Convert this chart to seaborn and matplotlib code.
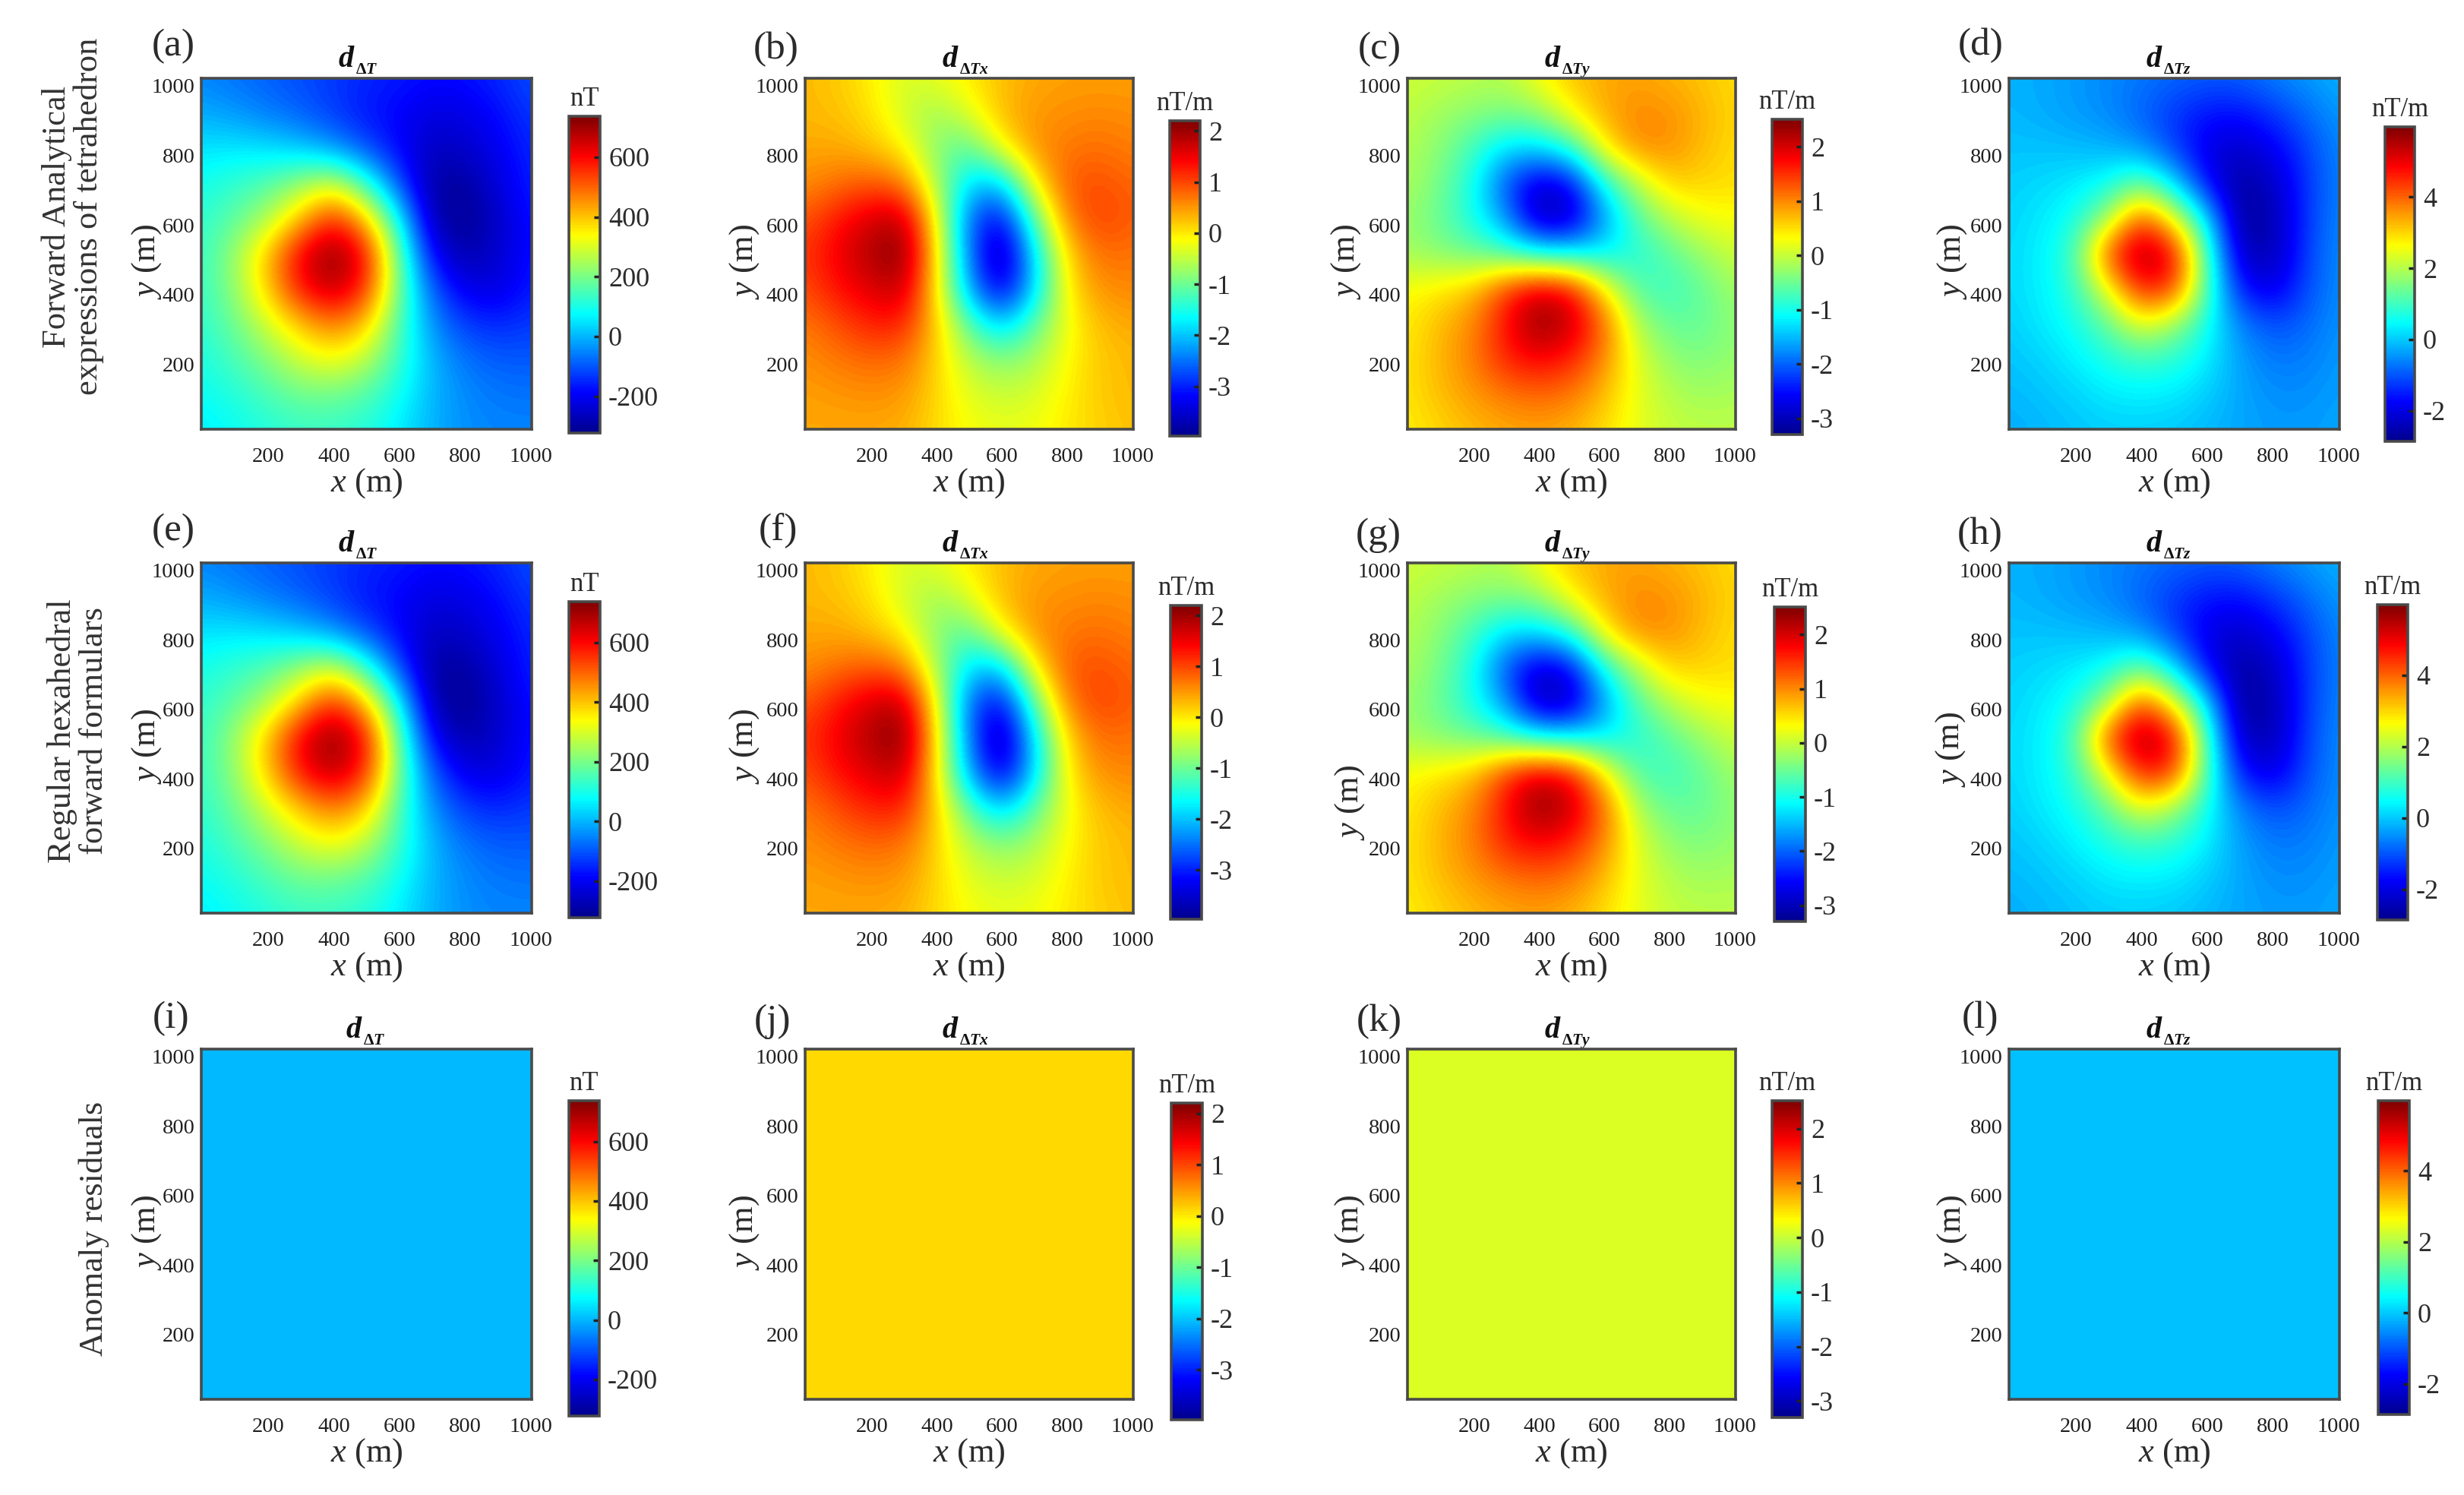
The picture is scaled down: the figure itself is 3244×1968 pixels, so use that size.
import matplotlib

matplotlib.use('Agg')
import matplotlib.pyplot as plt
import numpy as np
import pandas as pd
import seaborn as sns
from matplotlib.colors import LinearSegmentedColormap
from matplotlib.transforms import ScaledTranslation

FIG_W, FIG_H = 3244, 1968
INK = '#2b2b2b'
FRAME = '#4a4a4a'

# where the samples below sit on the axes; rows run from the top edge to the bottom edge
x_samples = [7, 108, 208, 309, 410, 511, 612, 713, 813, 914, 1015]
y_samples = [1015, 914, 813, 713, 612, 511, 410, 309, 208, 108, 7]

d_t = [
    [-50, -70, -90, -110, -130, -150, -165, -180, -175, -150, -110],
    [-10, -30, -60, -90, -130, -170, -190, -225, -215, -180, -130],
    [50, 55, 45, 20, -30, -110, -190, -260, -250, -200, -150],
    [95, 125, 160, 230, 300, 130, -110, -300, -300, -230, -150],
    [120, 170, 250, 400, 570, 400, 70, -285, -320, -250, -170],
    [130, 230, 400, 620, 737, 600, 170, -200, -290, -245, -170],
    [130, 220, 390, 590, 680, 560, 190, -100, -215, -225, -160],
    [120, 185, 290, 400, 480, 400, 150, -40, -130, -150, -130],
    [100, 150, 210, 290, 335, 270, 130, 0, -70, -95, -95],
    [85, 110, 150, 190, 190, 160, 90, 0, -45, -65, -70],
    [60, 85, 110, 130, 130, 110, 60, -5, -40, -50, -50],
]
d_tx = [
    [0.30, 0.20, -0.05, -0.35, -0.25, -0.02, 0.25, 0.40, 0.45, 0.45, 0.45],
    [0.30, 0.25, 0.05, -0.40, -0.70, -0.30, 0.30, 0.50, 0.55, 0.60, 0.55],
    [0.40, 0.40, 0.25, -0.05, -0.85, -1.15, -0.15, 0.55, 0.70, 0.75, 0.65],
    [0.55, 0.75, 0.90, 0.70, -0.60, -1.90, -2.00, -0.05, 0.90, 0.95, 0.80],
    [0.90, 1.30, 1.65, 1.85, -0.10, -2.60, -3.30, -1.10, 0.70, 1.05, 0.85],
    [1.10, 1.50, 1.90, 2.20, 0.10, -2.50, -3.95, -1.80, 0.15, 0.80, 0.70],
    [0.95, 1.35, 1.60, 1.80, 0.05, -2.20, -3.50, -1.90, 0.00, 0.55, 0.60],
    [0.70, 0.95, 1.25, 1.25, 0.20, -1.15, -2.00, -1.10, -0.20, 0.30, 0.40],
    [0.55, 0.70, 0.80, 0.75, 0.15, -0.55, -0.85, -0.65, -0.10, 0.20, 0.30],
    [0.45, 0.50, 0.55, 0.50, 0.12, -0.30, -0.45, -0.35, -0.05, 0.20, 0.30],
    [0.40, 0.40, 0.40, 0.35, 0.08, -0.15, -0.25, -0.20, 0.00, 0.15, 0.25],
]
d_ty = [
    [0.05, 0.00, -0.05, -0.10, 0.30, 0.65, 0.80, 0.85, 0.75, 0.65, 0.50],
    [-0.05, -0.20, -0.35, -0.40, -0.30, 0.35, 0.80, 1.00, 0.95, 0.75, 0.55],
    [-0.10, -0.35, -0.75, -1.30, -1.30, -0.90, 0.40, 1.00, 0.95, 0.70, 0.50],
    [-0.15, -0.45, -1.00, -2.10, -2.90, -2.60, -1.00, -0.10, 0.60, 0.55, 0.50],
    [-0.25, -0.55, -1.00, -1.70, -3.10, -3.00, -1.70, -0.65, -0.10, 0.25, 0.30],
    [-0.20, -0.35, -0.50, -0.70, -1.05, -1.15, -1.15, -0.95, -0.60, -0.25, 0.05],
    [0.30, 0.45, 0.65, 1.45, 2.00, 1.75, 0.40, -0.65, -0.80, -0.55, -0.20],
    [0.40, 0.70, 1.00, 1.70, 2.45, 2.10, 1.20, -0.15, -0.55, -0.55, -0.30],
    [0.45, 0.75, 1.05, 1.60, 1.80, 1.60, 1.00, 0.15, -0.30, -0.40, -0.25],
    [0.45, 0.70, 0.90, 1.10, 1.20, 1.10, 0.70, 0.20, -0.10, -0.20, -0.15],
    [0.40, 0.55, 0.70, 0.80, 0.85, 0.75, 0.50, 0.20, 0.00, -0.05, -0.05],
]
d_tz = [
    [-0.20, -0.25, -0.40, -0.55, -0.70, -0.85, -0.95, -0.90, -0.65, -0.40, -0.20],
    [-0.15, -0.25, -0.40, -0.55, -0.90, -1.30, -1.60, -1.65, -1.30, -0.85, -0.40],
    [-0.05, -0.05, -0.10, -0.20, -0.45, -1.20, -2.00, -2.25, -1.85, -1.20, -0.55],
    [0.05, 0.15, 0.30, 0.55, 1.40, 0.20, -1.70, -2.70, -2.30, -1.30, -0.60],
    [0.10, 0.30, 0.60, 1.80, 4.30, 2.50, 0.20, -2.80, -2.50, -1.30, -0.55],
    [0.15, 0.35, 1.00, 4.30, 5.80, 5.00, 1.00, -2.35, -2.50, -1.20, -0.50],
    [0.15, 0.35, 0.85, 2.50, 4.70, 4.40, 1.10, -1.60, -2.05, -1.10, -0.50],
    [0.05, 0.30, 0.60, 1.30, 2.50, 1.80, 0.60, -0.60, -1.10, -0.85, -0.45],
    [-0.05, 0.10, 0.35, 0.70, 0.95, 0.80, 0.35, -0.35, -0.70, -0.65, -0.40],
    [-0.15, -0.05, 0.10, 0.30, 0.35, 0.30, 0.05, -0.30, -0.50, -0.50, -0.35],
    [-0.25, -0.15, -0.05, 0.05, 0.05, 0.00, -0.15, -0.30, -0.40, -0.40, -0.30],
]
residual_levels = [5, 0.10, 0.13, -0.05]

column_grids = [d_t, d_tx, d_ty, d_tz]
column_subscripts = [
    r'$\mathbf{\Delta}\mathbfit{T}$',
    r'$\mathbf{\Delta}\mathbfit{Tx}$',
    r'$\mathbf{\Delta}\mathbfit{Ty}$',
    r'$\mathbf{\Delta}\mathbfit{Tz}$',
]
column_units = ['nT', 'nT/m', 'nT/m', 'nT/m']
column_limits = [(-323, 737), (-3.97, 2.2), (-3.3, 2.51), (-2.86, 5.97)]
column_ticks = [
    [-200, 0, 200, 400, 600],
    [-3, -2, -1, 0, 1, 2],
    [-3, -2, -1, 0, 1, 2],
    [-2, 0, 2, 4],
]
axis_ticks = [200, 400, 600, 800, 1000]
panel_letters = ['(a)', '(b)', '(c)', '(d)', '(e)', '(f)', '(g)', '(h)', '(i)', '(j)', '(k)', '(l)']

# pixel layout of the reference
frame_x = [(265, 700), (1060, 1492), (1853, 2285), (2645, 3080)]
frame_y = [(103, 565), (741, 1202), (1381, 1842)]
cbar_x = [
    [(749, 790), (1540, 1580), (2333, 2373), (3140, 3179)],
    [(749, 790), (1541, 1582), (2336, 2377), (3130, 3170)],
    [(749, 789), (1542, 1583), (2333, 2373), (3131, 3172)],
]
cbar_y = [
    [(153, 570), (159, 574), (157, 572), (167, 581)],
    [(792, 1208), (797, 1210), (799, 1213), (796, 1211)],
    [(1449, 1864), (1452, 1869), (1449, 1866), (1449, 1862)],
]
letter_pos = [
    [(228, 61), (1022, 65), (1816, 65), (2608, 60)],
    [(228, 699), (1024, 699), (1815, 705), (2607, 704)],
    [(225, 1341), (1017, 1345), (1816, 1345), (2607, 1341)],
]
# centre of the y label relative to the frame's left edge and middle, in pixels
ylabel_shift = [
    [(-67, 11), (-75, 11), (-76, 11), (-70, 11)],
    [(-67, 11), (-75, 11), (-71, 85), (-72, 15)],
    [(-67, 11), (-75, 11), (-71, 11), (-70, 11)],
]
row_labels = [
    ('Forward Analytical\nexpressions of tetrahedron', 96, 285),
    ('Regular hexahedral\nforward formulars', 103, 962),
    ('Anomaly residuals', 124, 1617),
]

# the original uses MATLAB's jet, whose ramps differ a little from matplotlib's
jet_segments = {
    'red': [(0, 0, 0), (0.375, 0, 0), (0.625, 1, 1), (0.875, 1, 1), (1, 0.5, 0.5)],
    'green': [(0, 0, 0), (0.125, 0, 0), (0.375, 1, 1), (0.625, 1, 1), (0.875, 0, 0), (1, 0, 0)],
    'blue': [(0, 0.5625, 0.5625), (0.125, 1, 1), (0.375, 1, 1), (0.625, 0, 0), (1, 0, 0)],
}
jet = LinearSegmentedColormap('matlab_jet', jet_segments, N=128)


def px_box(x_pair, y_pair):
    left, right = x_pair
    top, bottom = y_pair
    return [left / FIG_W, 1 - bottom / FIG_H, (right - left) / FIG_W, (bottom - top) / FIG_H]


def draw_panel(fig, row, col, grid):
    ax = fig.add_axes(px_box(frame_x[col], frame_y[row]))
    cax = fig.add_axes(px_box(cbar_x[row][col], cbar_y[row][col]))
    vmin, vmax = column_limits[col]
    frame = pd.DataFrame(grid, index=y_samples, columns=x_samples)
    sns.heatmap(frame, ax=ax, cbar_ax=cax, cmap=jet, vmin=vmin, vmax=vmax)

    # the field is continuous in the original, so smooth the cells at render time
    mesh = ax.collections[0]
    ax.imshow(frame.to_numpy(), cmap=mesh.cmap, norm=mesh.norm, interpolation='bicubic',
              extent=(0, 11, 11, 0), aspect='auto', zorder=2)

    centres = np.arange(len(x_samples)) + 0.5
    ax.set_xticks(np.interp(axis_ticks, x_samples, centres), axis_ticks)
    ax.set_yticks(np.interp(axis_ticks, y_samples[::-1], centres[::-1]), axis_ticks, rotation=0)
    ax.set_xlim(0.5, 10.5)
    ax.set_ylim(10.5, 0.5)
    ax.tick_params(direction='in', top=True, right=True, length=6, width=2.5, color='#222222',
                   labelsize=20.5, labelcolor='#1f1f1f', zorder=5)
    ax.tick_params(axis='x', pad=17)
    ax.tick_params(axis='y', pad=6)
    # labels sit a few pixels off their ticks in the original
    for label in ax.get_xticklabels():
        label.set_transform(label.get_transform() + ScaledTranslation(0.05, 0, fig.dpi_scale_trans))
    for label in ax.get_yticklabels():
        label.set_transform(label.get_transform() + ScaledTranslation(0, -0.06, fig.dpi_scale_trans))
    for spine in ax.spines.values():
        spine.set_visible(True)
        spine.set_linewidth(2.6)
        spine.set_edgecolor(FRAME)
        spine.set_zorder(6)

    width = frame_x[col][1] - frame_x[col][0]
    height = frame_y[row][1] - frame_y[row][0]
    shift_x, shift_y = ylabel_shift[row][col]
    ax.set_xlabel('$x$ (m)', fontsize=32, color=INK, labelpad=0)
    ax.set_ylabel('$y$ (m)', fontsize=32, color=INK)
    ax.yaxis.set_label_coords((shift_x + 17) / width, 0.5 - shift_y / height)

    # title: large d with a much smaller subscript, so two texts on a shared anchor
    anchor_x = (201 + (10 if (row, col) == (2, 0) else 0)) / width
    anchor_y = 1 + 15 / height
    ax.text(anchor_x, anchor_y, 'd', transform=ax.transAxes, ha='right', va='baseline',
            fontsize=29, fontweight='bold', fontstyle='italic', color='#111111')
    ax.text(anchor_x + 2 / width, anchor_y - 9 / height, column_subscripts[col], transform=ax.transAxes,
            ha='left', va='baseline', fontsize=15.5, color='#111111')

    cbar = mesh.colorbar
    cbar.set_ticks(column_ticks[col], labels=[str(t) for t in column_ticks[col]])
    cbar.ax.tick_params(direction='in', length=6, width=2.5, color='#222222',
                        labelsize=26, labelcolor=INK, pad=8)
    cbar.outline.set_edgecolor(FRAME)
    cbar.outline.set_linewidth(2.6)
    cbar.ax.text(0.5, 1.014, column_units[col], transform=cbar.ax.transAxes, ha='center', va='bottom',
                 fontsize=25, color=INK)

    lx, ly = letter_pos[row][col]
    fig.text(lx / FIG_W, 1 - ly / FIG_H, panel_letters[row * 4 + col], ha='center', va='center',
             fontsize=37, color=INK)


def main():
    plt.rcParams['font.family'] = ['Liberation Serif', 'DejaVu Serif']
    plt.rcParams['mathtext.fontset'] = 'custom'
    plt.rcParams['mathtext.rm'] = 'Liberation Serif'
    plt.rcParams['mathtext.it'] = 'Liberation Serif:italic'
    plt.rcParams['mathtext.bf'] = 'Liberation Serif:bold'
    plt.rcParams['mathtext.bfit'] = 'Liberation Serif:italic:bold'

    fig = plt.figure(figsize=(FIG_W / 100, FIG_H / 100), dpi=100)
    for row in range(3):
        for col in range(4):
            if row == 2:
                grid = [[residual_levels[col]] * len(x_samples) for _ in y_samples]
            else:
                grid = column_grids[col]
            draw_panel(fig, row, col, grid)

    for text, x, y in row_labels:
        fig.text(x / FIG_W, 1 - y / FIG_H, text, rotation=90, ha='center', va='center',
                 multialignment='center', fontsize=32, color='#333333', linespacing=1.05)

    fig.savefig('out.png', dpi=100)
    plt.close(fig)


if __name__ == '__main__':
    main()
